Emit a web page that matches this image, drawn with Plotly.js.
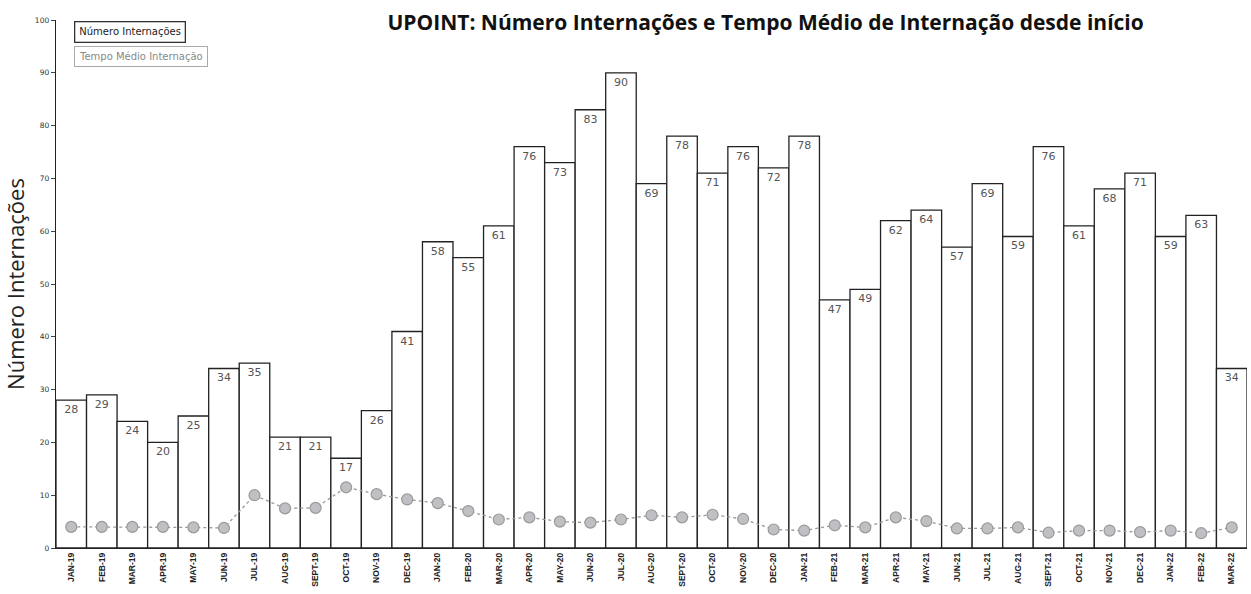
<!DOCTYPE html>
<html><head><meta charset="utf-8">
<script src="https://cdn.plot.ly/plotly-3.0.1.min.js"></script>
<style>html,body{margin:0;padding:0;background:#fff}#c{width:1251px;height:594px}</style>
</head><body><div id="c"></div>
<script>
const months = ["JAN-19","FEB-19","MAR-19","APR-19","MAY-19","JUN-19","JUL-19","AUG-19","SEPT-19","OCT-19","NOV-19","DEC-19",
"JAN-20","FEB-20","MAR-20","APR-20","MAY-20","JUN-20","JUL-20","AUG-20","SEPT-20","OCT-20","NOV-20","DEC-20",
"JAN-21","FEB-21","MAR-21","APR-21","MAY-21","JUN-21","JUL-21","AUG-21","SEPT-21","OCT-21","NOV-21","DEC-21",
"JAN-22","FEB-22","MAR-22"];
const internacoes = [28,29,24,20,25,34,35,21,21,17,26,41,
58,55,61,76,73,83,90,69,78,71,76,72,
78,47,49,62,64,57,69,59,76,61,68,71,
59,63,34];
const tempoMedio = [4.0,4.0,4.0,4.0,3.9,3.8,10.0,7.5,7.6,11.5,10.2,9.2,
8.5,7.0,5.4,5.8,5.0,4.8,5.4,6.2,5.8,6.3,5.5,3.5,
3.3,4.3,3.9,5.8,5.1,3.7,3.7,3.9,2.9,3.3,3.3,3.0,
3.3,2.8,3.9];

const traces = [
 {type:'bar', x:months, y:internacoes, name:'Número Internações',
  marker:{color:'#ffffff', line:{color:'#222', width:1.3}},
  text:internacoes.map(String), textposition:'inside', insidetextanchor:'end',
  textangle:0, textfont:{family:'DejaVu Sans', size:11, color:'#555'}, cliponaxis:false},
 {type:'scatter', mode:'lines+markers', x:months, y:tempoMedio, name:'Tempo Médio Internação',
  line:{color:'#999', width:1.3, dash:'dot'},
  marker:{size:11, color:'#c0c0c4', line:{color:'#999', width:1.2}}}
];
const layout = {
 width:1251, height:594, showlegend:false,
 paper_bgcolor:'#fff', plot_bgcolor:'#fff',
 margin:{l:56, r:4, t:20, b:46},
 bargap:0,
 title:{text:'<b>UPOINT: Número Internações e Tempo Médio de Internação desde início</b>',
   font:{family:'Open Sans', size:21, color:'#111'}, x:0.612, xanchor:'center', y:0.962, yanchor:'middle'},
 xaxis:{type:'category', range:[-0.5,38.5], showline:true, linecolor:'#222', linewidth:1.3,
   ticks:'', tickangle:-90, tickfont:{family:'Liberation Sans', size:8.5, color:'#222', weight:'bold'},
   showgrid:false, zeroline:false, automargin:false},
 yaxis:{range:[0,100], dtick:10, showline:true, linecolor:'#222', linewidth:1.3,
   ticks:'outside', ticklen:4, tickcolor:'#444', showgrid:false, zeroline:false,
   tickfont:{family:'DejaVu Sans', size:7.5, color:'#333'},
   title:{text:'Número Internações', font:{family:'Open Sans', size:22, color:'#222'}, standoff:8}, automargin:false},
 annotations:[
  {xref:'paper', yref:'paper', x:0.015, y:0.998, xanchor:'left', yanchor:'top', showarrow:false,
   text:'Número Internações', font:{family:'DejaVu Sans', size:10, color:'#222'},
   bordercolor:'#333', borderwidth:1.3, borderpad:4, bgcolor:'#fff'},
  {xref:'paper', yref:'paper', x:0.015, y:0.95, xanchor:'left', yanchor:'top', showarrow:false,
   text:'Tempo Médio Internação', font:{family:'DejaVu Sans', size:10, color:'#888'},
   bordercolor:'#aaa', borderwidth:1, borderpad:4, bgcolor:'#fff'}
 ]
};
Plotly.newPlot('c', traces, layout, {displayModeBar:false, staticPlot:true});
</script></body></html>
